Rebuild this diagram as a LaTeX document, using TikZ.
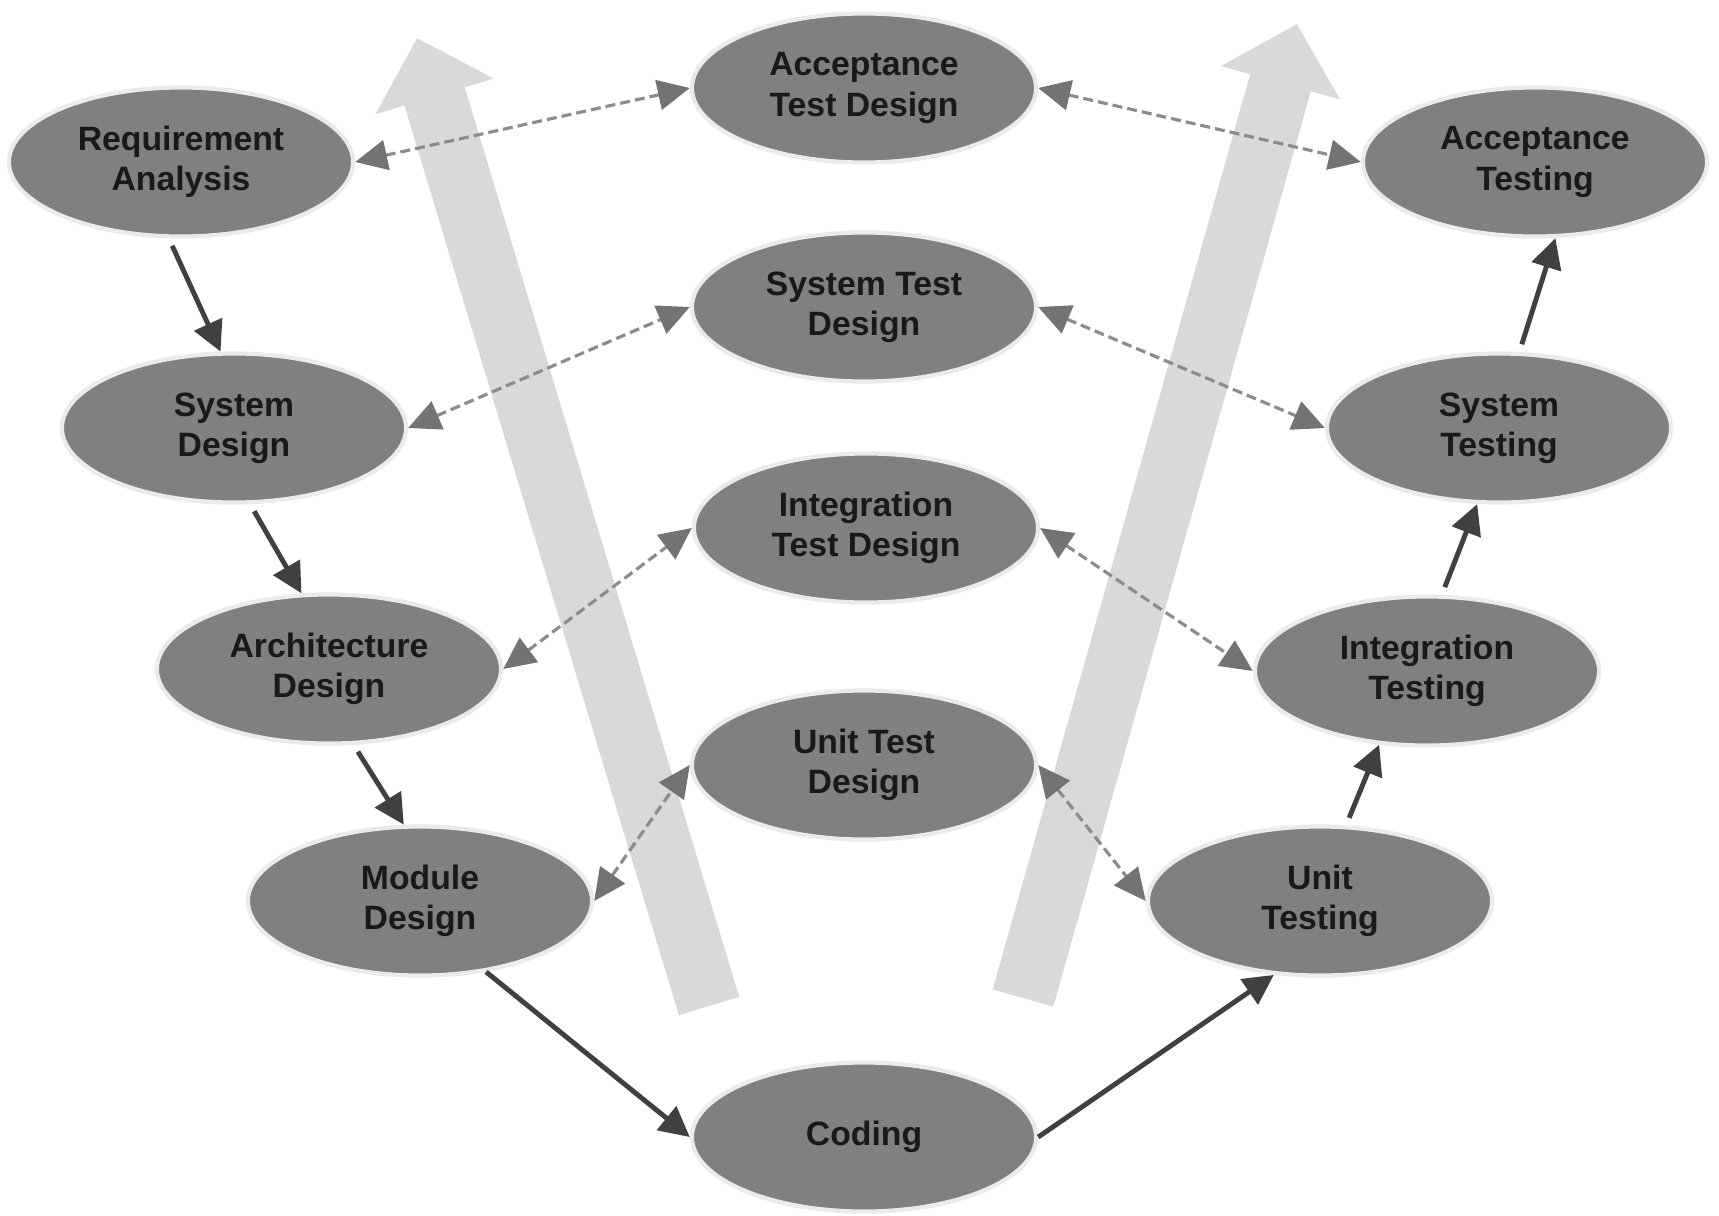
\documentclass[tikz,border=0pt]{standalone}
\usepackage{fontspec}
\setmainfont{Liberation Sans}
\usetikzlibrary{arrows.meta,shapes.geometric}
\begin{document}
\begin{tikzpicture}[x=0.01cm,y=-0.01cm,
  phase/.style={ellipse,fill=black!50,draw=black!8,line width=1.2pt,
    minimum width=3.44cm,minimum height=1.49cm,inner sep=0pt,align=center,
    font=\bfseries\fontsize{9.6}{11.4}\selectfont,text=black!90},
  flow/.style={draw=black!75,line width=1.4pt,
    -{Triangle[length=3mm,width=3mm]}},
  link/.style={draw=black!45,line width=0.9pt,dash pattern=on 1mm off 0.5mm,
    {Triangle[length=3.2mm,width=3mm,color=black!55]}-{Triangle[length=3.2mm,width=3mm,color=black!55]}},
  bigarrow/.style={draw=black!15,line width=0.63cm,
    -{Triangle[length=0.61cm,width=1.2cm]}}]
\useasboundingbox (0,0) rectangle (1719,1215);
%big arrows in background
\coordinate (lbot) at (709,1006);
\coordinate (ltip) at (417,38);
\coordinate (rbot) at (1023,998);
\coordinate (rtip) at (1297,24);
\draw[bigarrow] (lbot) -- (ltip);
\draw[bigarrow] (rbot) -- (rtip);
%left branch
\node[phase] (ra) at (181,162) {Requirement\\Analysis};
\node[phase] (sd) at (234,428) {System\\Design};
\node[phase] (ad) at (329,669) {Architecture\\Design};
\node[phase] (md) at (420,901) {Module\\Design};
%middle column
\node[phase] (atd) at (864,88) {Acceptance\\Test Design};
\node[phase] (std) at (864,307) {System Test\\Design};
\node[phase] (itd) at (866,528) {Integration\\Test Design};
\node[phase] (utd) at (864,765) {Unit Test\\Design};
\node[phase] (cod) at (864,1137) {Coding};
%right branch
\node[phase] (at) at (1535,162) {Acceptance\\Testing};
\node[phase] (st) at (1499,428) {System\\Testing};
\node[phase] (it) at (1427,671) {Integration\\Testing};
\node[phase] (ut) at (1320,901) {Unit\\Testing};
%down the V
\draw[flow,shorten <=0.8mm] (ra.-99) -- (sd.100);
\draw[flow,shorten <=0.8mm] (sd.-78) -- (ad.110);
\draw[flow,shorten <=0.8mm] (ad.-72) -- (md.102);
\draw[flow] (md.-47.5) -- (cod.west);
%up the V
\draw[flow] (cod.east) -- (ut.-122.6);
\draw[flow,shorten <=0.8mm] (ut.71) -- (it.-123.5);
\draw[flow,shorten <=0.8mm] (it.79) -- (st.-106);
\draw[flow,shorten <=0.8mm] (st.75) -- (at.-75);
%test design links
\draw[link] (ra.east) -- (atd.west);
\draw[link] (atd.east) -- (at.west);
\draw[link] (sd.east) -- (std.west);
\draw[link] (std.east) -- (st.west);
\draw[link] (ad.east) -- (itd.west);
\draw[link] (itd.east) -- (it.west);
\draw[link] (md.east) -- (utd.west);
\draw[link] (utd.east) -- (ut.west);
\end{tikzpicture}
\end{document}
